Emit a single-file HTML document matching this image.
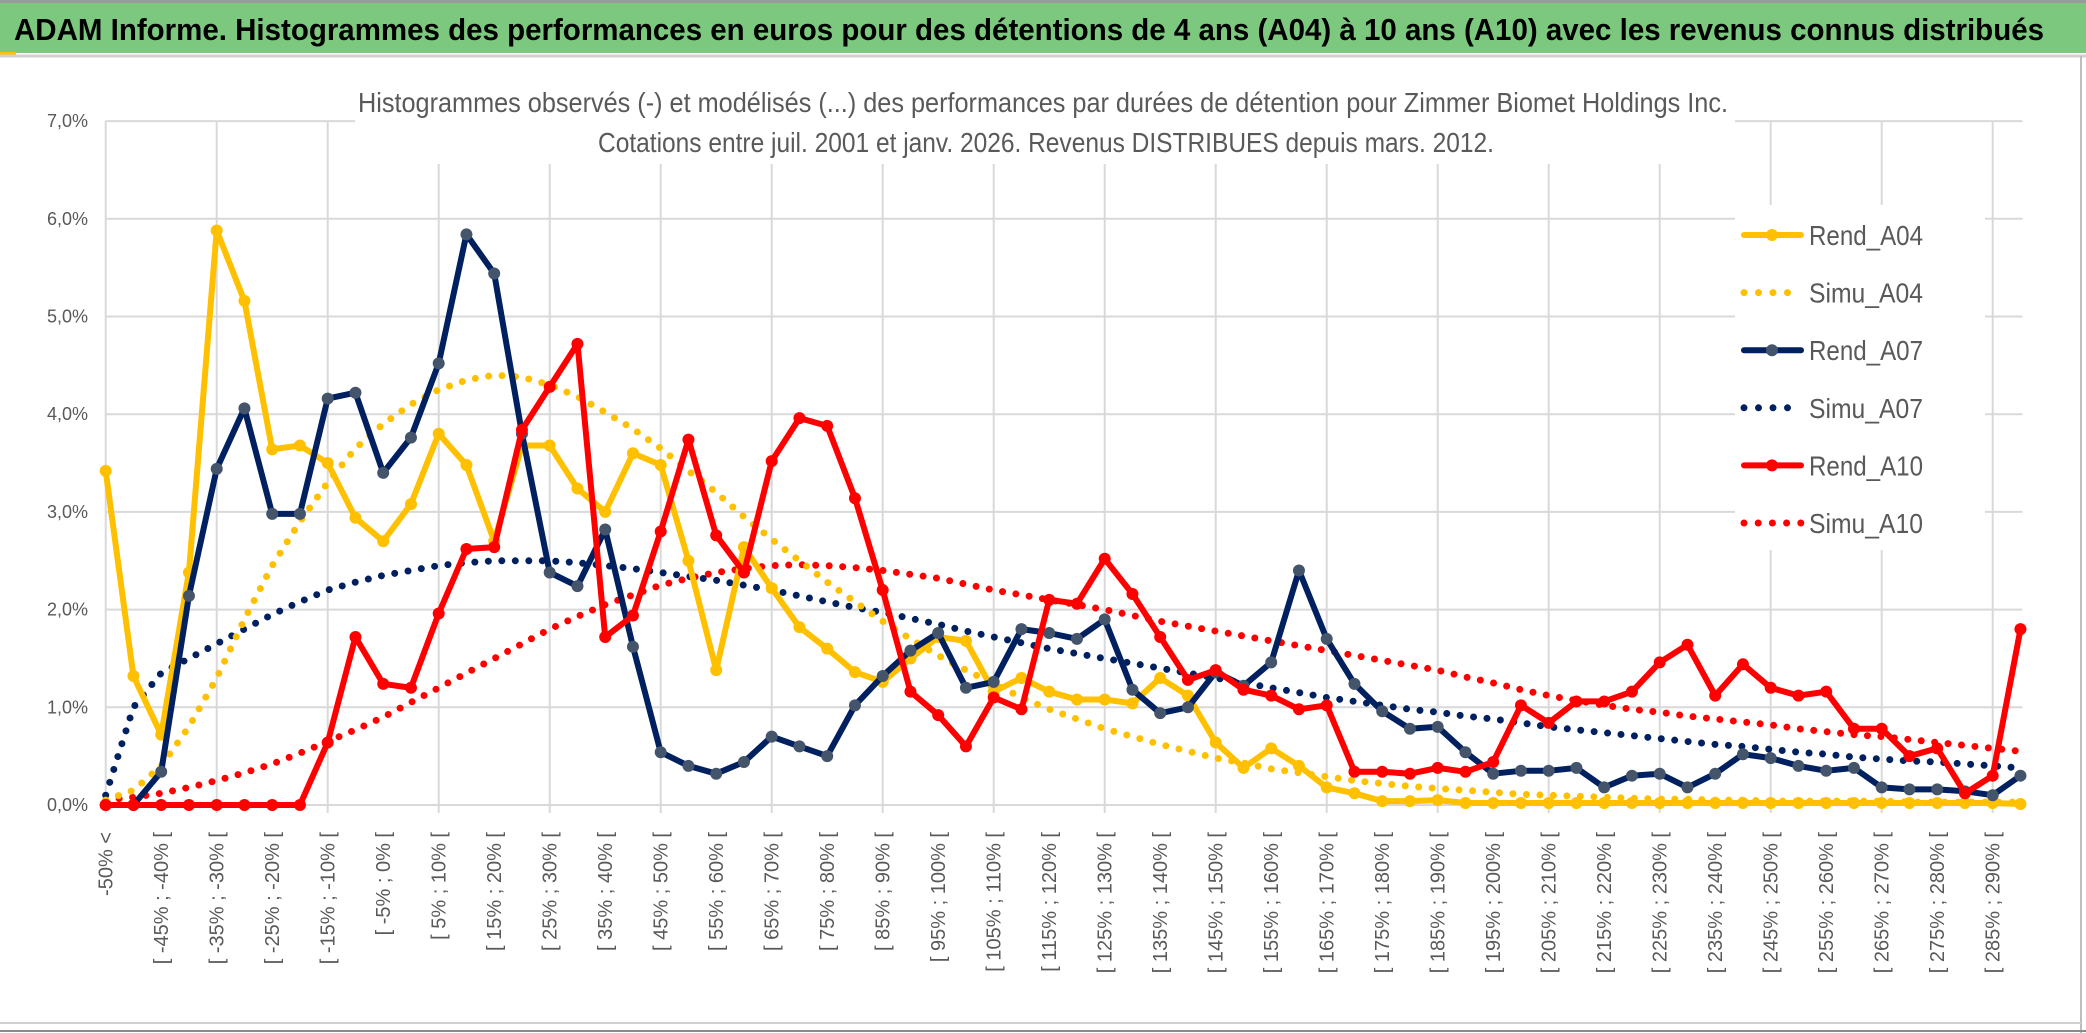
<!DOCTYPE html>
<html><head><meta charset="utf-8"><style>
html,body{margin:0;padding:0;background:#fff;}
svg{display:block;font-family:"Liberation Sans",Arial,sans-serif;}
</style></head>
<body>
<svg id="chart" width="2086" height="1033" viewBox="0 0 2086 1033" xmlns="http://www.w3.org/2000/svg">
<rect x="0" y="0" width="2086" height="1033" fill="#fff"/>
<rect x="0" y="3" width="2086" height="50" fill="#7dc87f"/>
<rect x="0" y="0" width="2086" height="3" fill="#9a9a9a"/>
<rect x="0" y="52" width="16" height="4" fill="#ffc000"/>
<line x1="0" y1="56" x2="2086" y2="56" stroke="#d0d0d0" stroke-width="3"/>
<line x1="2081" y1="56" x2="2081" y2="1033" stroke="#bdbdbd" stroke-width="2"/>
<line x1="0" y1="1023" x2="2081" y2="1023" stroke="#d0d0d0" stroke-width="2"/>
<line x1="0" y1="1031" x2="2086" y2="1031" stroke="#8a8a8a" stroke-width="2"/>
<text x="14" y="40" font-size="31" font-weight="bold" fill="#000" textLength="2030" lengthAdjust="spacingAndGlyphs">ADAM Informe. Histogrammes des performances en euros pour des détentions de 4 ans (A04) à 10 ans (A10) avec les revenus connus distribués</text>
<g id="grid"></g>
<g id="yaxis"></g>
<g id="xaxis"></g>
<g id="series"></g>
<rect x="355" y="78" width="1380" height="86" fill="#fff"/>
<text x="1043" y="112" font-size="28" fill="#595959" text-anchor="middle" textLength="1370" lengthAdjust="spacingAndGlyphs">Histogrammes observés (-) et modélisés (...) des performances par durées de détention pour Zimmer Biomet Holdings Inc.</text>
<text x="1046" y="152" font-size="28" fill="#595959" text-anchor="middle" textLength="896" lengthAdjust="spacingAndGlyphs">Cotations entre juil. 2001 et janv. 2026. Revenus DISTRIBUES depuis mars. 2012.</text>
<rect x="1735" y="205" width="250" height="345" fill="#fff"/>
<g id="legend"></g>
</svg>
<script>
// ---- chart data ----
const rendA04 = [3.42,1.32,0.72,2.38,5.88,5.16,3.64,3.68,3.5,2.94,2.7,3.08,3.8,3.48,2.7,3.68,3.68,3.24,3.0,3.6,3.48,2.5,1.38,2.64,2.22,1.82,1.6,1.36,1.26,1.5,1.72,1.68,1.16,1.3,1.16,1.08,1.08,1.04,1.3,1.12,0.64,0.38,0.58,0.4,0.18,0.12,0.04,0.04,0.05,0.02,0.02,0.02,0.02,0.02,0.02,0.02,0.02,0.02,0.02,0.02,0.02,0.02,0.02,0.02,0.02,0.02,0.02,0.02,0.02,0.01];
const simuA04 = [0.05,0.15,0.4,0.8,1.3,1.9,2.45,2.9,3.3,3.65,3.9,4.1,4.25,4.35,4.4,4.38,4.3,4.18,4.02,3.85,3.65,3.42,3.2,2.95,2.72,2.5,2.28,2.08,1.88,1.7,1.53,1.38,1.24,1.1,0.98,0.88,0.78,0.7,0.62,0.55,0.48,0.43,0.37,0.33,0.29,0.25,0.22,0.19,0.17,0.15,0.13,0.11,0.1,0.09,0.08,0.07,0.06,0.06,0.05,0.05,0.04,0.04,0.04,0.04,0.04,0.03,0.03,0.03,0.03,0.03];
const rendA07 = [0,0,0.34,2.14,3.44,4.06,2.98,2.98,4.16,4.22,3.4,3.76,4.52,5.84,5.44,3.8,2.38,2.24,2.82,1.62,0.54,0.4,0.32,0.44,0.7,0.6,0.5,1.02,1.32,1.58,1.76,1.2,1.26,1.8,1.76,1.7,1.9,1.18,0.94,1.0,1.36,1.22,1.46,2.4,1.7,1.24,0.96,0.78,0.8,0.54,0.32,0.35,0.35,0.38,0.18,0.3,0.32,0.18,0.32,0.52,0.48,0.4,0.35,0.38,0.18,0.16,0.16,0.14,0.1,0.3];
const simuA07 = [0.1,1.0,1.35,1.5,1.65,1.8,1.95,2.08,2.2,2.28,2.35,2.4,2.45,2.48,2.5,2.5,2.5,2.48,2.45,2.42,2.38,2.34,2.3,2.25,2.2,2.14,2.08,2.02,1.97,1.91,1.85,1.78,1.72,1.66,1.6,1.55,1.5,1.45,1.4,1.35,1.3,1.25,1.2,1.15,1.1,1.06,1.02,0.98,0.95,0.91,0.88,0.84,0.8,0.77,0.74,0.71,0.68,0.65,0.62,0.6,0.57,0.54,0.52,0.49,0.47,0.45,0.44,0.42,0.4,0.38];
const rendA10 = [0,0,0,0,0,0,0,0,0.64,1.72,1.24,1.2,1.96,2.62,2.64,3.84,4.28,4.72,1.72,1.94,2.8,3.74,2.76,2.38,3.52,3.96,3.88,3.14,2.2,1.16,0.92,0.6,1.1,0.98,2.1,2.06,2.52,2.16,1.72,1.28,1.38,1.18,1.12,0.98,1.02,0.34,0.34,0.32,0.38,0.34,0.44,1.02,0.84,1.06,1.06,1.16,1.46,1.64,1.12,1.44,1.2,1.12,1.16,0.78,0.78,0.5,0.58,0.12,0.3,1.8];
const simuA10 = [0.05,0.08,0.12,0.18,0.25,0.33,0.42,0.53,0.65,0.77,0.9,1.05,1.2,1.35,1.5,1.65,1.8,1.93,2.05,2.15,2.25,2.32,2.38,2.42,2.45,2.46,2.45,2.43,2.4,2.36,2.32,2.26,2.2,2.15,2.1,2.05,2.0,1.94,1.88,1.83,1.78,1.73,1.68,1.63,1.58,1.53,1.48,1.43,1.38,1.31,1.25,1.18,1.12,1.07,1.02,0.98,0.95,0.91,0.88,0.85,0.82,0.78,0.75,0.72,0.7,0.67,0.64,0.61,0.58,0.55];
const yTicks = [0,1,2,3,4,5,6,7];
const yTickLabels = ["0,0%","1,0%","2,0%","3,0%","4,0%","5,0%","6,0%","7,0%"];
const categories = ["-50% <"];
for (let i = 1; i < 70; i++) { const lo = -50 + 5 * (i - 1); categories.push("[ " + lo + "% ; " + (lo + 5) + "% ["); }
const seriesNames = ["Rend_A04","Simu_A04","Rend_A07","Simu_A07","Rend_A10","Simu_A10"];

// ---- axes ----
const NS = "http://www.w3.org/2000/svg";
const X0 = 105.7, DX = 27.75, Y0 = 805, DY = 97.7;
function xPos(i){ return X0 + i * DX; }
function yPos(v){ return Y0 - v * DY; }
function mk(tag, attrs, parent){ const e = document.createElementNS(NS, tag); for (const k in attrs) e.setAttribute(k, attrs[k]); parent.appendChild(e); return e; }

const grid = document.getElementById('grid');
yTicks.forEach(t => {
  const l = mk('line', {x1: X0, x2: xPos(69) + 2, y1: yPos(t), y2: yPos(t), stroke: '#d9d9d9', 'stroke-width': 2}, grid);
  
  
});
for (let i = 0; i < categories.length; i += 4) {
  const l = mk('line', {x1: xPos(i), x2: xPos(i), y1: yPos(7), y2: Y0 + 8, stroke: '#d9d9d9', 'stroke-width': 2}, grid);
  
  
}
const yaxis = document.getElementById('yaxis');
yTicks.forEach((t, k) => {
  const tx = mk('text', {x: 88, y: yPos(t) + 6, 'font-size': 18, fill: '#595959', 'text-anchor': 'end'}, yaxis);
  tx.textContent = yTickLabels[k];
  
  
});
const xaxis = document.getElementById('xaxis');
categories.forEach((c, i) => {
  if (i % 2) return;
  const x = xPos(i) + 7, y = 832;
  const tx = mk('text', {x: x, y: y, 'font-size': 20, fill: '#595959', 'text-anchor': 'end', transform: 'rotate(-90 ' + x + ' ' + y + ')'}, xaxis);
  tx.textContent = c;
  
  
});

// ---- series ----
const sg = document.getElementById('series');
function pts(arr){ return arr.map((v, i) => xPos(i).toFixed(1) + ',' + yPos(v).toFixed(1)).join(' '); }
function dotted(arr, color, name){
  const p = mk('polyline', {points: pts(arr), fill: 'none', stroke: color, 'stroke-width': 7, 'stroke-linecap': 'round', 'stroke-dasharray': '0 13.5'}, sg);
  
  
}
function solid(arr, color, mcolor, name){
  const g = mk('g', {}, sg);
  
  
  const p = mk('polyline', {points: pts(arr), fill: 'none', stroke: color, 'stroke-width': 6, 'stroke-linejoin': 'round', 'stroke-linecap': 'round'}, g);
  
  
  arr.forEach((v, i) => {
    const c = mk('circle', {cx: xPos(i), cy: yPos(v), r: 6, fill: mcolor}, g);
    
    
  });
}
dotted(simuA10, '#ff0000', 'simu-a10-line');
dotted(simuA07, '#002060', 'simu-a07-line');
dotted(simuA04, '#ffc000', 'simu-a04-line');
solid(rendA04, '#ffc000', '#ffc000', 'rend-a04-series');
solid(rendA07, '#002060', '#44546a', 'rend-a07-series');
solid(rendA10, '#ff0000', '#ff0000', 'rend-a10-series');

// ---- legend ----
const lg = document.getElementById('legend');
const legColors = ['#ffc000','#ffc000','#002060','#002060','#ff0000','#ff0000'];
const legMarker = ['#ffc000',null,'#44546a',null,'#ff0000',null];
seriesNames.forEach((n, k) => {
  const cy = 235 + k * 57.6;
  const g = mk('g', {}, lg);
  
  
  if (k % 2 === 0) {
    mk('line', {x1: 1744, x2: 1801, y1: cy, y2: cy, stroke: legColors[k], 'stroke-width': 6, 'stroke-linecap': 'round'}, g);
    mk('circle', {cx: 1772, cy: cy, r: 6, fill: legMarker[k]}, g);
  } else {
    mk('line', {x1: 1744, x2: 1801, y1: cy, y2: cy, stroke: legColors[k], 'stroke-width': 7, 'stroke-linecap': 'round', 'stroke-dasharray': k === 5 ? '0 14.2' : '0 14.5'}, g);
  }
  const t = mk('text', {x: 1809, y: cy + 10, 'font-size': 28, fill: '#595959', textLength: 114, lengthAdjust: 'spacingAndGlyphs'}, g);
  t.textContent = n;
  
  
});
</script>
</body></html>
